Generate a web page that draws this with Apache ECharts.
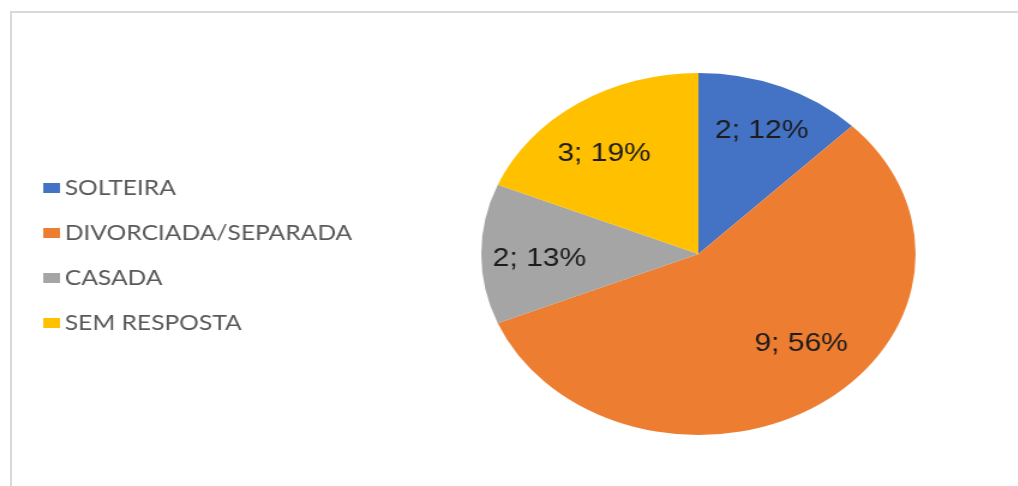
<!DOCTYPE html>
<html>
<head>
<meta charset="utf-8">
<script src="https://cdn.jsdelivr.net/npm/echarts@6/dist/echarts.min.js"></script>
<style>
  html, body { margin: 0; padding: 0; background: #fff; overflow: hidden; width: 1018px; height: 486px; }
  #frame { position: absolute; left: 10px; top: 11px; right: -20px; bottom: -20px;
           border-top: 2px solid #d9d9d9; border-left: 2px solid #d9d9d9; }
  /* the chart is laid out narrow and widened horizontally, giving an oval pie */
  #chart { position: absolute; left: 0; top: 0; width: 848px; height: 486px;
           transform: scaleX(1.2); transform-origin: 0 0; }
</style>
</head>
<body>
<div id="frame"></div>
<div id="chart"></div>
<script>
const categories = ['SOLTEIRA', 'DIVORCIADA/SEPARADA', 'CASADA', 'SEM RESPOSTA'];
const counts = [2, 9, 2, 3];
const percentLabels = ['12%', '56%', '13%', '19%'];
const colors = ['#4472C4', '#ED7D31', '#A5A5A5', '#FFC000'];

const pieData = categories.map((name, i) => ({ name, value: counts[i] }));
const center = [582, 254];
const radius = 181;
// small nudges of the value labels away from the sector bisectors
const labelNudges = [[2, 0], [12, -20], [0, 5], [-5, 10]];

const chart = echarts.init(document.getElementById('chart'), null, { renderer: 'canvas' });
chart.setOption({
  animation: false,
  color: colors,
  legend: {
    orient: 'vertical',
    left: 36,
    top: 176,
    padding: 0,
    icon: 'rect',
    itemWidth: 14,
    itemHeight: 10,
    itemGap: 21,
    selectedMode: false,
    data: categories,
    textStyle: { fontFamily: 'Lato', fontSize: 20.5, color: '#595959', lineHeight: 24, height: 24, padding: [0, 0, 0, -1] }
  },
  series: [
    {
      type: 'pie',
      center: center,
      radius: [0, radius],
      startAngle: 90,
      clockwise: true,
      silent: true,
      label: { show: false },
      labelLine: { show: false },
      itemStyle: { borderWidth: 0 },
      data: pieData
    },
    {
      // transparent ring that only carries the value labels
      type: 'pie',
      center: center,
      radius: [78, radius],
      startAngle: 90,
      clockwise: true,
      silent: true,
      itemStyle: { color: 'rgba(0,0,0,0)', borderWidth: 0 },
      labelLine: { show: false },
      label: {
        show: true,
        position: 'inside',
        fontFamily: 'Liberation Sans',
        fontSize: 25,
        color: '#1c1c1c',
        formatter: p => counts[p.dataIndex] + '; ' + percentLabels[p.dataIndex]
      },
      labelLayout: p => ({ dx: labelNudges[p.dataIndex][0], dy: labelNudges[p.dataIndex][1] }),
      data: pieData
    }
  ]
});
</script>
</body>
</html>
